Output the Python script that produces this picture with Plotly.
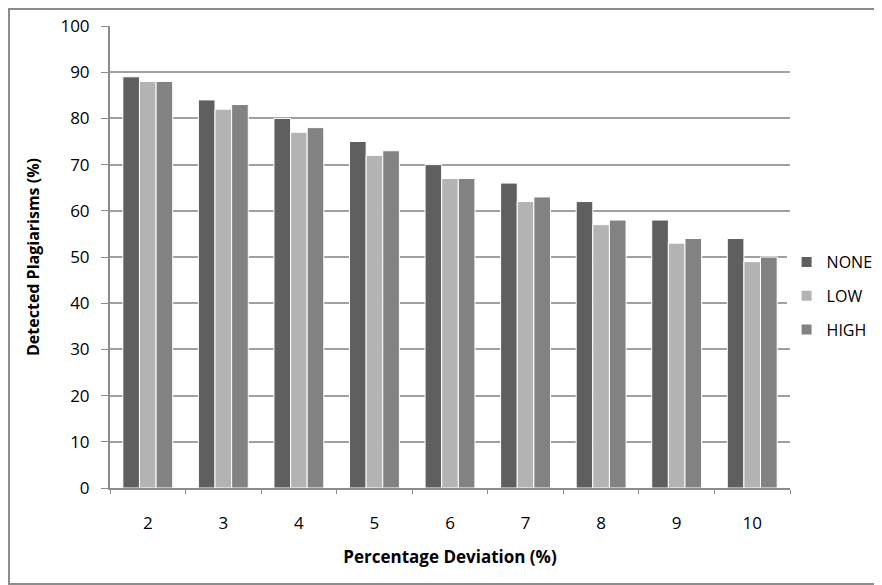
import plotly.graph_objects as go

categories = ["2", "3", "4", "5", "6", "7", "8", "9", "10"]
none_vals = [89, 84, 80, 75, 70, 66, 62, 58, 54]
low_vals = [88, 82, 77, 72, 67, 62, 57, 53, 49]
high_vals = [88, 83, 78, 73, 67, 63, 58, 54, 50]
y_ticks = list(range(0, 101, 10))

series = [("NONE", none_vals, "#5f5f5f"), ("LOW", low_vals, "#b3b3b3"), ("HIGH", high_vals, "#828282")]

fig = go.Figure()
for name, vals, col in series:
    fig.add_trace(go.Bar(x=categories, y=vals, name=name, legendgroup=name,
                         marker=dict(color=col, line=dict(color="white", width=1))))

font = "Open Sans, DejaVu Sans, sans-serif"
fig.update_layout(
    width=874, height=577,
    margin=dict(l=102, r=92, t=18, b=97, autoexpand=False),
    paper_bgcolor="white", plot_bgcolor="white",
    barmode="group", bargap=0.34, bargroupgap=0.0,
    font=dict(family=font, size=17, color="black"),
    legend=dict(x=0.995, y=0.4156, yanchor="middle", xanchor="left", font=dict(size=16),
                itemsizing="constant", traceorder="grouped", tracegroupgap=10, itemwidth=30),
    xaxis=dict(showgrid=False, showline=True, linecolor="#8c8c8c", linewidth=2,
               ticks="outside", ticklen=4, tickcolor="#8c8c8c", tickson="boundaries",
               ticklabelstandoff=19,
               title=dict(text="<b>Percentage Deviation (%)</b>", font=dict(size=17), standoff=18)),
    yaxis=dict(range=[0, 100], tickvals=y_ticks, showgrid=True, gridcolor="#a0a0a0", gridwidth=2,
               showline=True, linecolor="#8c8c8c", linewidth=2, ticks="outside", ticklen=7,
               tickcolor="#8c8c8c", ticklabelstandoff=8, zeroline=False,
               title=dict(text="<b>Detected Plagiarisms (%)</b>", font=dict(size=16), standoff=17)),
)
pw, ph = 874 - 102 - 92, 577 - 18 - 97
fig.add_shape(type="rect", xref="paper", yref="paper",
              x0=(1 - 102) / pw, x1=(872 - 102) / pw,
              y0=(480 - 576) / ph, y1=(480 - 1) / ph,
              line=dict(color="#8c8c8c", width=2), fillcolor="rgba(0,0,0,0)", layer="below")
fig.write_html("out.html")
